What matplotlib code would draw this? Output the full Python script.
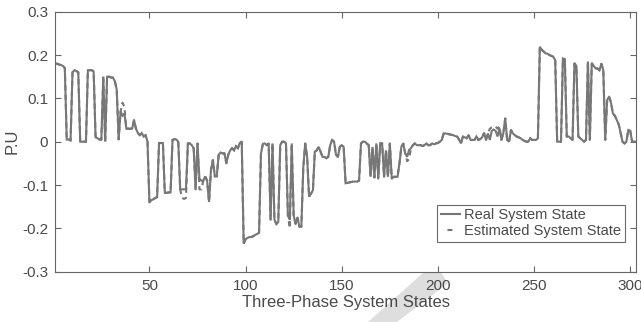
import numpy as np
import matplotlib
matplotlib.use("Agg")
import matplotlib.pyplot as plt
from matplotlib.lines import Line2D
from matplotlib.patches import Polygon

plt.rcParams['font.family'] = ['Liberation Sans', 'DejaVu Sans']

# ---- data ----
real_1 = [0.18, 0.18, 0.178, 0.177, 0.175, 0.17, 0.005, 0.005, 0.003, 0.16,
          0.165, 0.163, 0.16, 0.0, 0.0, 0.0, 0.0, 0.165, 0.165, 0.165,
          0.162, 0.01, 0.008, 0.005, 0.005, 0.15, 0.0, 0.15, 0.15, 0.148,
          0.148, 0.14, 0.12, 0.005, 0.07, 0.06, 0.065, 0.03, 0.03, 0.03,
          0.03, 0.05, 0.03, 0.02, 0.015, 0.02, 0.012, 0.015, 0.0, -0.14]
real_2 = [-0.135, -0.133, -0.13, -0.128, -0.003, -0.003, -0.003, -0.118, -0.118, -0.117,
          -0.117, 0.004, 0.006, 0.005, 0.0, -0.11, -0.11, -0.11, -0.11, -0.004,
          -0.004, -0.008, -0.015, -0.11, -0.004, -0.085, -0.09, -0.09, -0.08, -0.09,
          -0.139, -0.065, -0.042, -0.08, -0.08, -0.03, -0.025, -0.027, -0.027, -0.05,
          -0.03, -0.02, -0.015, -0.02, -0.01, -0.015, -0.003, 0.0]
real_3 = [-0.235, -0.225, -0.222, -0.22, -0.22, -0.218, -0.215, -0.213, -0.21, -0.027,
          -0.005, -0.004, -0.008, -0.004, -0.18, -0.004, -0.18, -0.19, -0.185, -0.008,
          0.0, 0.0, -0.004, -0.17, -0.18, -0.004, -0.17, -0.19, -0.175, -0.196,
          -0.196, -0.06, -0.004, -0.035, -0.127, -0.12, -0.112, -0.023, -0.02, -0.012,
          -0.023, -0.035, -0.035, -0.038, -0.035, -0.008, 0.004, 0.0, -0.03, -0.035,
          -0.012, -0.008, -0.012]
real_4 = [-0.096, -0.095, -0.094, -0.093, -0.092, -0.092, -0.092, -0.09, -0.004, 0.0,
          0.0, -0.004, -0.008, -0.081, -0.012, -0.083, -0.004, -0.085, -0.004, -0.004,
          -0.081, -0.02, -0.081, -0.004, -0.085, -0.081, -0.081, -0.081, -0.05, -0.012,
          -0.004, -0.027, -0.035, -0.019, -0.015, -0.008, -0.004, -0.008, -0.008, -0.008,
          -0.01, -0.008, -0.004, -0.008, -0.008, -0.004, -0.006, -0.004, -0.003]
real_5 = [0.0, 0.004, 0.019, 0.019, 0.018, 0.017, 0.016, 0.015, 0.013, 0.012,
          0.005, -0.004, 0.012, 0.01, 0.008, 0.015, 0.004, 0.004, 0.004, 0.012,
          0.004, 0.006, 0.01, 0.02, 0.004, 0.019, 0.004, 0.025, 0.028, 0.025,
          0.012, 0.031, 0.004, 0.019, 0.054, 0.004, 0.0, 0.027, 0.019, 0.015,
          0.012, 0.01, 0.008, 0.004, 0.002, 0.0, 0.0, 0.008, 0.004, 0.004]
real_6 = [0.004, 0.008, 0.219, 0.212, 0.208, 0.204, 0.203, 0.2, 0.198, 0.196,
          0.188, 0.0, 0.0, 0.0, 0.192, 0.19, 0.012, 0.012, 0.008, 0.004,
          0.181, 0.175, 0.012, 0.008, 0.004, 0.0, 0.004, 0.185, 0.004, 0.181,
          0.175, 0.169, 0.169, 0.165, 0.18, 0.165, 0.004, 0.096, 0.104, 0.09,
          0.065, 0.06, 0.05, 0.04, 0.02, 0.0, -0.004, 0.0, 0.027, 0.025,
          0.0, 0.0, 0.0]

# estimated state differs from the real one only at these states (state, value)
est_states = [35, 36, 37, 67, 68, 69, 76, 77, 123, 184, 185,
              227, 228, 229, 230, 231, 232]
est_values = [0.07, 0.09, 0.08, -0.13, -0.132, -0.13, -0.11, -0.11, -0.2, -0.045, -0.04,
              0.03, 0.033, 0.035, 0.035, 0.03, 0.035]

x_ticks = [50, 100, 150, 200, 250, 300]
y_ticks = [-0.3, -0.2, -0.1, 0, 0.1, 0.2, 0.3]
y_ticklabels = ['-0.3', '-0.2', '-0.1', '0', '0.1', '0.2', '0.3']

real = np.array(real_1 + real_2 + real_3 + real_4 + real_5 + real_6)
states = np.arange(1, len(real) + 1)
estimated = real.copy()
for s, v in zip(est_states, est_values):
    estimated[s - 1] = v

# ---- figure ----
line_c = '#777777'
text_c = '#4a4a4a'
axis_c = '#666666'

fig = plt.figure(figsize=(6.41, 3.22), dpi=100)
ax = fig.add_axes([0.0861, 0.1562, 0.9061, 0.8075])

ax.plot(states, real, color=line_c, lw=1.5, solid_joinstyle='miter')
ax.plot(states, estimated, color=line_c, lw=1.5, dashes=(2.5, 2))

ax.set_xlim(1, 303)
ax.set_ylim(-0.3, 0.3)
ax.set_xticks(x_ticks)
ax.set_yticks(y_ticks)
ax.set_yticklabels(y_ticklabels)
ax.tick_params(direction='in', length=4, width=0.8, colors=axis_c,
               labelcolor=text_c, labelsize=11, top=True, right=True, pad=5)
for sp in ax.spines.values():
    sp.set_color(axis_c)
    sp.set_linewidth(0.8)

ax.set_xlabel('Three-Phase System States', fontsize=12, color=text_c, labelpad=2)
ax.set_ylabel('P.U', fontsize=12, color=text_c, labelpad=2)

h_real = Line2D([], [], color=line_c, lw=1.5)
h_est = Line2D([], [], color=line_c, lw=1.5, linestyle=(6.0, (2.4, 6.7)))
leg = ax.legend([h_real, h_est], ['Real System State', 'Estimated System State'],
                loc='lower right', bbox_to_anchor=(0.981, 0.114), borderaxespad=0,
                fontsize=10.5, frameon=True, fancybox=False, handlelength=1.3,
                handletextpad=0.3, borderpad=0.25, labelspacing=0.15)
leg.get_frame().set_edgecolor('#444444')
leg.get_frame().set_linewidth(0.8)
for t in leg.get_texts():
    t.set_color(text_c)

# light grey diagonal band below the axis (as in the reference image)
W, H = 641.0, 322.0
pts = [(423, 273), (440, 271), (448, 283), (397, 322), (368, 322)]
band = Polygon([(px / W, 1 - py / H) for px, py in pts], closed=True,
               transform=fig.transFigure, facecolor='#dedede', edgecolor='none',
               zorder=-1)
fig.patches.append(band)

fig.savefig('out.png', dpi=100)
